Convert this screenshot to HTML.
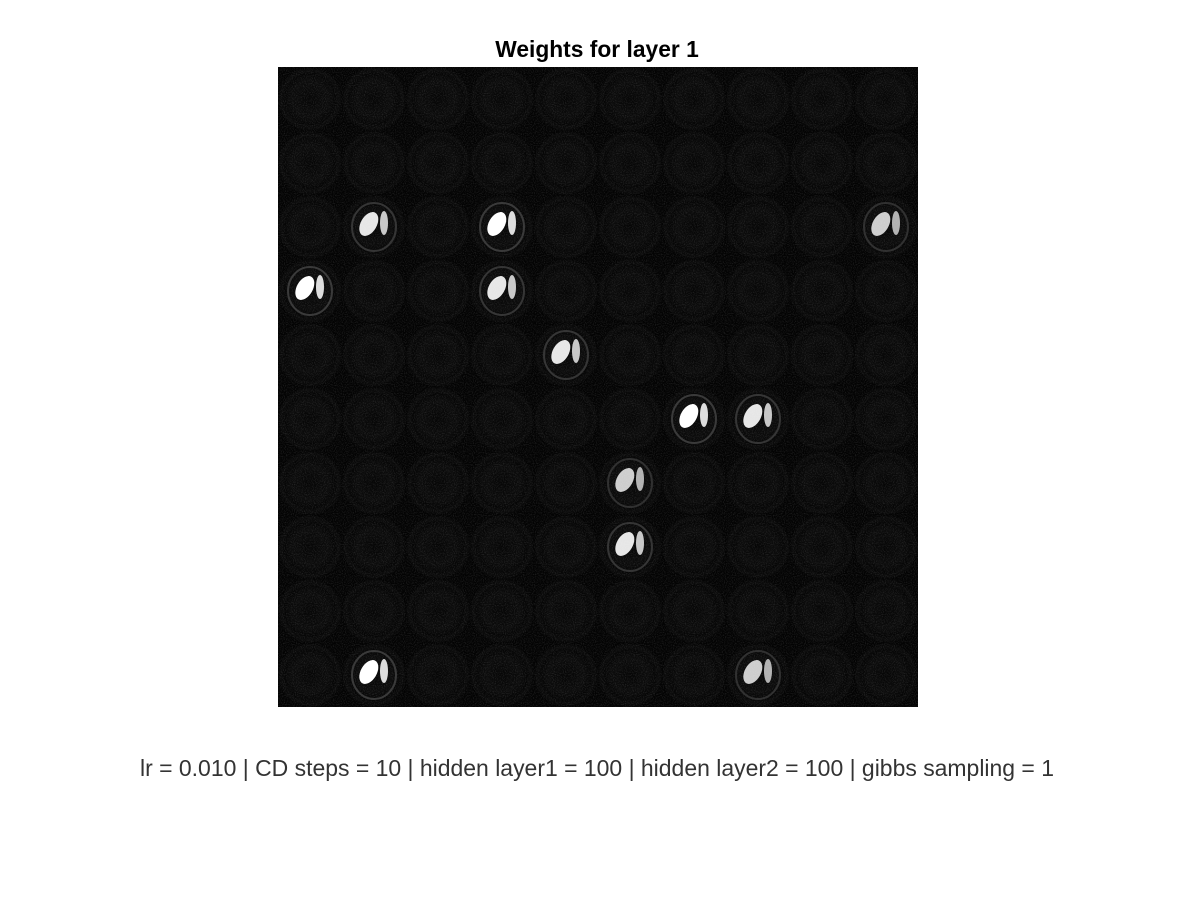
<!DOCTYPE html>
<html><head><meta charset="utf-8"><style>
body{margin:0;background:#fff;width:1200px;height:900px;overflow:hidden;font-family:"Liberation Sans",sans-serif}
</style></head><body>
<svg id="chart" width="1200" height="900" xmlns="http://www.w3.org/2000/svg">
<defs>
<filter id="noise" x="0" y="0" width="100%" height="100%">
<feTurbulence type="fractalNoise" baseFrequency="0.9" numOctaves="1" seed="3"/>
<feColorMatrix type="matrix" values="0 0 0 0 1  0 0 0 0 1  0 0 0 0 1  0 0 0 -2.2 1.25"/>
</filter>
<radialGradient id="ring">
<stop offset="0" stop-color="#fff" stop-opacity="0.01"/>
<stop offset="0.55" stop-color="#fff" stop-opacity="0.035"/>
<stop offset="0.8" stop-color="#fff" stop-opacity="0.01"/>
<stop offset="1" stop-color="#000" stop-opacity="0.1"/>
</radialGradient>
</defs>
<text x="597" y="57" text-anchor="middle" font-size="22.8" font-weight="bold" fill="#000">Weights for layer 1</text>
<rect x="278" y="67" width="640" height="640" fill="#030303"/>
<g id="tiles"></g>
<rect x="278" y="67" width="640" height="640" filter="url(#noise)" opacity="0.13"/>
<g id="blobs"></g>
<text x="597" y="776" text-anchor="middle" font-size="22.9" fill="#333" textLength="914" lengthAdjust="spacingAndGlyphs">lr = 0.010 | CD steps = 10 | hidden layer1 = 100 | hidden layer2 = 100 | gibbs sampling = 1</text>
</svg>
<script>
const gridRows = [0,1,2,3,4,5,6,7,8,9];
const gridCols = [0,1,2,3,4,5,6,7,8,9];
const brightRows = [2,2,2,3,3,4,5,5,6,7,9,9];
const brightCols = [1,3,9,0,3,4,6,7,5,5,1,7];
const brightStrength = [0.9,1,0.8,1,0.9,0.9,1,0.9,0.8,0.9,1,0.8];
const NS='http://www.w3.org/2000/svg';
const x0=278,y0=67,size=640,n=gridCols.length,ts=size/n;
const xs=c=>x0+c*ts, ys=r=>y0+r*ts;
const tiles=document.getElementById('tiles'), blobs=document.getElementById('blobs');
gridRows.forEach(r=>gridCols.forEach(c=>{
  const t=document.createElementNS(NS,'rect');
  t.setAttribute('x',xs(c));t.setAttribute('y',ys(r));t.setAttribute('width',ts);t.setAttribute('height',ts);
  t.setAttribute('fill','url(#ring)');
  
  
  tiles.appendChild(t);
}));
brightRows.forEach((r,i)=>{
  const c=brightCols[i],cx=xs(c)+ts/2,cy=ys(r)+ts/2,s=brightStrength[i];
  const g=document.createElementNS(NS,'g');
  
  
  g.setAttribute('opacity',s);
  const ring=document.createElementNS(NS,'ellipse');
  ring.setAttribute('cx',cx);ring.setAttribute('cy',cy);ring.setAttribute('rx',22);ring.setAttribute('ry',24);
  ring.setAttribute('fill','none');ring.setAttribute('stroke','#3a3a3a');ring.setAttribute('stroke-width',2);
  g.appendChild(ring);
  const a=document.createElementNS(NS,'ellipse');
  a.setAttribute('cx',cx-6);a.setAttribute('cy',cy);a.setAttribute('rx',8);a.setAttribute('ry',13);
  a.setAttribute('fill','#fff');a.setAttribute('transform',`rotate(30 ${cx} ${cy})`);
  g.appendChild(a);
  const b=document.createElementNS(NS,'ellipse');
  b.setAttribute('cx',cx+10);b.setAttribute('cy',cy-4);b.setAttribute('rx',4);b.setAttribute('ry',12);
  b.setAttribute('fill','#ddd');
  g.appendChild(b);
  blobs.appendChild(g);
});
</script>
</body></html>
